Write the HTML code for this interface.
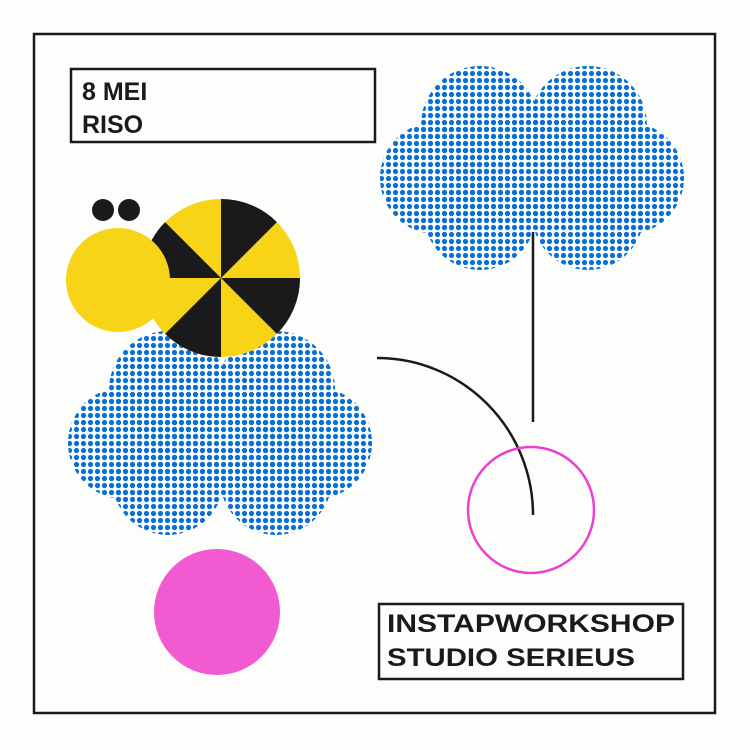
<!DOCTYPE html>
<html><head><meta charset="utf-8"><style>html,body{margin:0;padding:0;background:#fff}svg{display:block}</style></head>
<body>
<svg width="750" height="750" viewBox="0 0 750 750" xmlns="http://www.w3.org/2000/svg">
<defs>
<pattern id="dots" width="7" height="7" patternUnits="userSpaceOnUse">
<circle cx="3.5" cy="3.5" r="2.6" fill="#0a6fd6"/>
</pattern>
<g id="cloud">
<circle cx="480" cy="125" r="59"/>
<circle cx="588" cy="125" r="59"/>
<circle cx="480" cy="214" r="56"/>
<circle cx="588" cy="214" r="56"/>
<circle cx="436" cy="178" r="56"/>
<circle cx="628" cy="178" r="56"/>
<rect x="460" y="120" width="150" height="100"/>
</g>
</defs>
<rect width="750" height="750" fill="#fdfdfb"/>
<rect x="34" y="34" width="681" height="679" fill="none" stroke="#1a1a1a" stroke-width="2.5"/>
<use href="#cloud" fill="url(#dots)"/>
<line x1="533" y1="232" x2="533" y2="422" stroke="#1a1a1a" stroke-width="2.5"/>
<use href="#cloud" fill="url(#dots)" transform="translate(-312,265)"/>
<circle cx="103" cy="210" r="11" fill="#1a1a1a"/>
<circle cx="129" cy="210" r="11" fill="#1a1a1a"/>
<g transform="translate(221,278)">
<circle r="79" fill="#f7d417"/>
<path d="M0 0 L0 -79 A79 79 0 0 1 55.9 -55.9 Z" fill="#1a1a1a"/>
<path d="M0 0 L79 0 A79 79 0 0 1 55.9 55.9 Z" fill="#1a1a1a"/>
<path d="M0 0 L0 79 A79 79 0 0 1 -55.9 55.9 Z" fill="#1a1a1a"/>
<path d="M0 0 L-79 0 A79 79 0 0 1 -55.9 -55.9 Z" fill="#1a1a1a"/>
</g>
<circle cx="118" cy="280" r="52" fill="#f7d417"/>
<path d="M377 358 A156 157 0 0 1 533 515" fill="none" stroke="#1a1a1a" stroke-width="2.5"/>
<circle cx="531" cy="510" r="63" fill="none" stroke="#ec3fd0" stroke-width="2.5"/>
<circle cx="217" cy="612" r="63" fill="#f25ad2"/>
<rect x="71" y="69" width="304" height="73" fill="none" stroke="#1a1a1a" stroke-width="2.5"/>
<text x="82" y="100" font-family="Liberation Sans, sans-serif" font-weight="bold" font-size="25" fill="#1a1a1a">8 MEI</text>
<text x="82" y="133" font-family="Liberation Sans, sans-serif" font-weight="bold" font-size="25" fill="#1a1a1a">RISO</text>
<rect x="379" y="604" width="304" height="75" fill="none" stroke="#1a1a1a" stroke-width="2.5"/>
<text x="387" y="632" textLength="288" lengthAdjust="spacingAndGlyphs" font-family="Liberation Sans, sans-serif" font-weight="bold" font-size="25" fill="#1a1a1a">INSTAPWORKSHOP</text>
<text x="387" y="666" textLength="248" lengthAdjust="spacingAndGlyphs" font-family="Liberation Sans, sans-serif" font-weight="bold" font-size="25" fill="#1a1a1a">STUDIO SERIEUS</text>
</svg>
</body></html>
